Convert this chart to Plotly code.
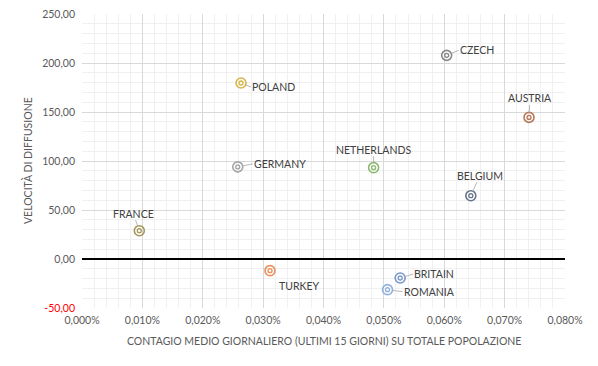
import plotly.graph_objects as go

countries = ["FRANCE", "POLAND", "GERMANY", "CZECH", "AUSTRIA", "NETHERLANDS",
             "BELGIUM", "TURKEY", "BRITAIN", "ROMANIA"]
contagio = [0.0000949, 0.0002634, 0.0002580, 0.0006040, 0.0007404, 0.0004830,
            0.0006440, 0.0003114, 0.0005270, 0.0005060]
velocita = [28.9, 179.6, 94.0, 207.8, 144.5, 93.2, 64.6, -11.9, -19.4, -31.3]
colors = ["#a8975a", "#d9b448", "#a6a6a6", "#888888", "#b8785a", "#8cb872",
          "#67768c", "#e8905e", "#7895cc", "#8eb0de"]

x_tickvals = [0, 0.0001, 0.0002, 0.0003, 0.0004, 0.0005, 0.0006, 0.0007, 0.0008]
y_tickvals = [-50, 0, 50, 100, 150, 200, 250]

# label offsets (pixels) and anchors
label_ax = [-6, 10, 15, 12, 1, 0, 9, 8, 13, 15]
label_ay = [-17, 4, -3, -5, -19, -18, -20, 15, -4, 2]
label_anchor = ["center", "left", "left", "left", "center", "center", "center",
                "left", "left", "left"]


def fmt_y(v):
    s = f"{v:.2f}".replace(".", ",")
    if v < 0:
        return f'<span style="color:#ff0000">{s}</span>'
    return s


y_ticktext = [fmt_y(v) for v in y_tickvals]

W, H = 590, 358
L, R, T, B = 74, 33, 6, 58

fig = go.Figure()
fig.add_trace(go.Scatter(
    x=contagio, y=velocita, mode="markers",
    marker=dict(symbol="circle-open", size=10, color=colors,
                line=dict(width=1.6, color=colors)),
    hoverinfo="skip", showlegend=False))
fig.add_trace(go.Scatter(
    x=contagio, y=velocita, mode="markers",
    marker=dict(symbol="circle-open", size=4, color=colors,
                line=dict(width=1.3, color=colors)),
    text=countries, showlegend=False))

for c, xv, yv, ax, ay, anc in zip(countries, contagio, velocita, label_ax, label_ay, label_anchor):
    fig.add_annotation(
        x=xv, y=yv, text=c, showarrow=True, arrowhead=0, arrowwidth=0.8,
        arrowcolor="#a6a6a6", ax=ax, ay=ay, xanchor=anc, yanchor="middle",
        standoff=5, font=dict(family="Lato", size=10.5, color="#404040"),
        borderpad=0)

pw = W - L - R
ph = H - T - B
# axis titles as paper annotations
fig.add_annotation(
    text="CONTAGIO MEDIO GIORNALIERO (ULTIMI 15 GIORNI) SU TOTALE POPOLAZIONE",
    xref="paper", yref="paper", x=0.5, y=-33 / ph, showarrow=False,
    xanchor="center", yanchor="middle", font=dict(family="Lato", size=10.5, color="#595959"))
fig.add_annotation(
    text="VELOCITÀ DI DIFFUSIONE",
    xref="paper", yref="paper", x=-55 / pw, y=0.5, showarrow=False, textangle=-90,
    xanchor="center", yanchor="middle", font=dict(family="Lato", size=10.5, color="#595959"))

fig.update_layout(
    width=W, height=H,
    margin=dict(l=L, r=R, t=T, b=B, autoexpand=False),
    paper_bgcolor="white", plot_bgcolor="white",
    separators=",.",
    font=dict(family="Lato", size=10.5, color="#595959"),
    xaxis=dict(
        range=[0, 0.0008], tickvals=x_tickvals, tickformat=".3%",
        showgrid=True, gridcolor="#d9d9d9", gridwidth=1,
        minor=dict(dtick=0.00002, showgrid=True, gridcolor="#f0f0f0", gridwidth=1),
        zeroline=False, showline=False, ticks="", automargin=False,
        tickfont=dict(size=10.5, color="#595959"), ticklabelstandoff=4,
        ticklabeloverflow="allow",
    ),
    yaxis=dict(
        range=[-50, 250], tickvals=y_tickvals, ticktext=y_ticktext,
        showgrid=True, gridcolor="#d9d9d9", gridwidth=1,
        minor=dict(dtick=10, showgrid=True, gridcolor="#f0f0f0", gridwidth=1),
        zeroline=True, zerolinecolor="#000000", zerolinewidth=1.5,
        showline=False, ticks="", ticklabelstandoff=6, automargin=False,
        tickfont=dict(size=10.5, color="#595959"), ticklabeloverflow="allow",
    ),
)

fig.write_html("out.html")
